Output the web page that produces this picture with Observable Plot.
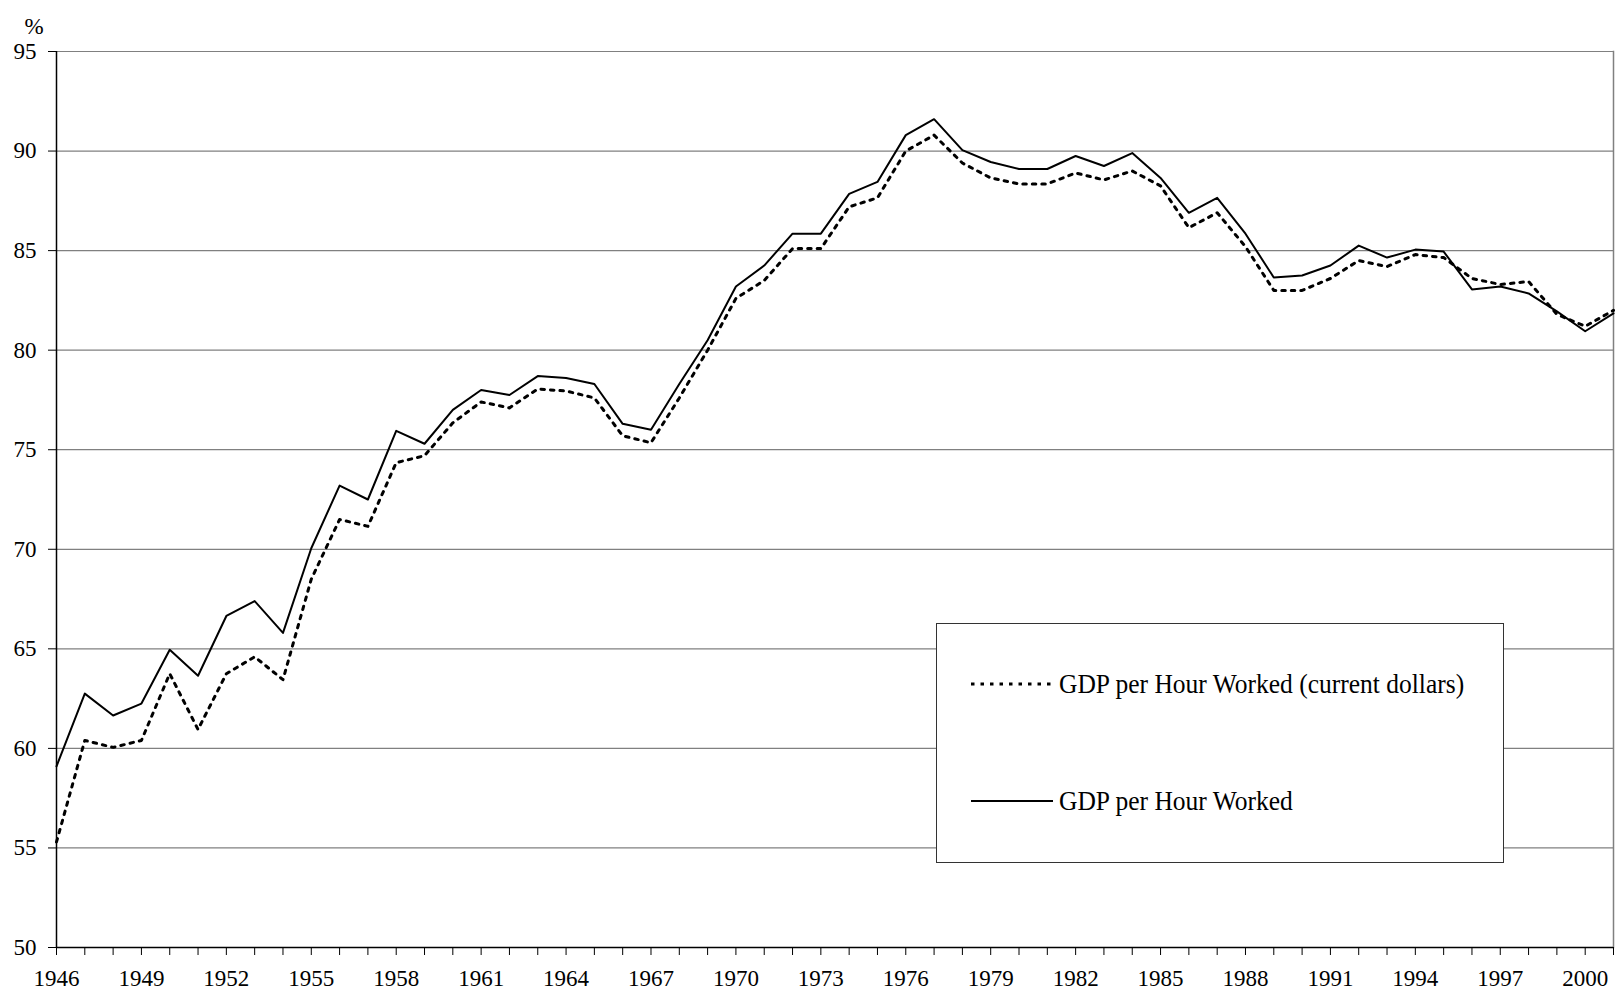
<!DOCTYPE html>
<html>
<head>
<meta charset="utf-8">
<script src="https://cdn.jsdelivr.net/npm/d3@7"></script>
<script src="https://cdn.jsdelivr.net/npm/@observablehq/plot@0.6"></script>
<style>
  body { margin: 0; background: #fff; }
  #wrap { position: relative; width: 1620px; height: 998px; font-family: "Liberation Serif", "Times New Roman", serif; }
  #legend { position: absolute; left: 936px; top: 623px; width: 568px; height: 240px; box-sizing: border-box;
            border: 1px solid #333; background: #fff; font-size: 25.5px; color: #000; }
  .entry { position: absolute; left: 34px; height: 30px; display: flex; align-items: center; white-space: nowrap; }
  .entry svg { width: 82px; height: 10px; margin-right: 6px; }
  .entry span { display: inline-block; transform: scaleY(1.1); }
</style>
</head>
<body>
<div id="wrap"></div>
<script>
const years = [1946,1947,1948,1949,1950,1951,1952,1953,1954,1955,1956,1957,1958,1959,1960,1961,1962,1963,1964,1965,
  1966,1967,1968,1969,1970,1971,1972,1973,1974,1975,1976,1977,1978,1979,1980,1981,1982,1983,1984,1985,
  1986,1987,1988,1989,1990,1991,1992,1993,1994,1995,1996,1997,1998,1999,2000,2001];

// GDP per Hour Worked (solid)
const gdpPerHour = [59.1,62.75,61.65,62.25,64.95,63.65,66.65,67.4,65.8,70.05,73.2,72.5,75.95,75.3,77.0,78.0,77.75,78.7,78.6,78.3,
  76.3,76.0,78.3,80.5,83.2,84.25,85.85,85.85,87.85,88.45,90.8,91.6,90.05,89.45,89.1,89.1,89.75,89.25,89.9,88.65,
  86.9,87.65,85.85,83.65,83.75,84.25,85.25,84.65,85.05,84.95,83.05,83.2,82.85,81.95,80.95,81.85];

// GDP per Hour Worked (current dollars) (dotted)
const gdpPerHourCurrent = [55.3,60.4,60.05,60.4,63.75,60.95,63.75,64.6,63.45,68.5,71.5,71.15,74.35,74.7,76.35,77.4,77.1,78.05,77.95,77.6,
  75.7,75.35,77.6,80.0,82.6,83.5,85.1,85.1,87.2,87.65,90.0,90.8,89.4,88.65,88.35,88.35,88.9,88.55,89.0,88.25,
  86.15,86.9,85.2,83.0,83.0,83.6,84.5,84.2,84.8,84.65,83.6,83.3,83.45,81.8,81.2,82.0];

const yTicks = [50,55,60,65,70,75,80,85,90,95];
const seriesNames = ["GDP per Hour Worked (current dollars)", "GDP per Hour Worked"];

const chart = Plot.plot({
  width: 1620,
  height: 998,
  marginLeft: 56,
  marginRight: 7,
  marginTop: 51,
  marginBottom: 51,
  style: { fontFamily: '"Liberation Serif", "Times New Roman", serif', fontSize: "23px", color: "#000", background: "#fff" },
  x: { domain: [1946, 2001] },
  y: { domain: [50, 95] },
  marks: [
    Plot.ruleY(yTicks.filter(d => d > 50), { stroke: "#808080", strokeWidth: 1.2 }),
    Plot.frame({ anchor: "right", stroke: "#808080", strokeWidth: 1.5 }),
    Plot.line(years, { x: d => d, y: gdpPerHourCurrent, stroke: "#000", strokeWidth: 3, strokeDasharray: "3.5,6" }),
    Plot.line(years, { x: d => d, y: gdpPerHour, stroke: "#000", strokeWidth: 2 }),
    Plot.ruleX([1946], { stroke: "#000", strokeWidth: 1.5 }),
    Plot.ruleY([50], { stroke: "#000", strokeWidth: 1.5 }),
    Plot.axisX({ ticks: years, tickSize: 8, tickPadding: 14, label: null, fontSize: 23,
      tickFormat: d => ((d - 1946) % 3 === 0 ? String(d) : "") }),
    Plot.axisY({ ticks: yTicks, tickSize: 8, tickPadding: 12, label: null, fontSize: 23, tickFormat: d => String(d) }),
    Plot.text(["%"], { frameAnchor: "top-left", text: d => d, dx: -32, dy: -34, fontSize: 23 })
  ]
});

const wrap = document.getElementById("wrap");
wrap.appendChild(chart);

const legend = document.createElement("div");
legend.id = "legend";
legend.innerHTML = `
  <div class="entry" style="top:45px">
    <svg viewBox="0 0 82 10"><line x1="0" y1="5" x2="82" y2="5" stroke="#000" stroke-width="3" stroke-dasharray="3.5,6"/></svg>
    <span>${seriesNames[0]}</span>
  </div>
  <div class="entry" style="top:162px">
    <svg viewBox="0 0 82 10"><line x1="0" y1="5" x2="82" y2="5" stroke="#000" stroke-width="2"/></svg>
    <span>${seriesNames[1]}</span>
  </div>`;
wrap.appendChild(legend);
</script>
</body>
</html>
